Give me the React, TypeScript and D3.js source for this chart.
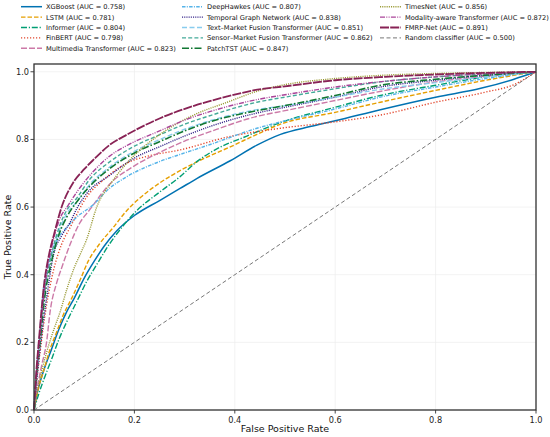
import * as d3 from "d3";

// ROC points: [FPR, TPR]
const xgboost: [number, number][] = [
  [0, 0], [0.008, 0.06], [0.02, 0.12], [0.035, 0.18], [0.05, 0.24], [0.065, 0.29], [0.08, 0.33],
  [0.1, 0.39], [0.12, 0.44], [0.14, 0.485], [0.165, 0.53], [0.2, 0.575], [0.251, 0.62], [0.291, 0.655],
  [0.325, 0.685], [0.391, 0.737], [0.444, 0.783], [0.491, 0.815], [0.55, 0.838], [0.6, 0.855],
  [0.69, 0.888], [0.8, 0.925], [0.89, 0.951], [0.956, 0.978], [1, 1],
];
const lstm: [number, number][] = [
  [0, 0], [0.008, 0.06], [0.02, 0.12], [0.032, 0.18], [0.045, 0.23], [0.058, 0.28], [0.075, 0.33],
  [0.092, 0.385], [0.108, 0.44], [0.13, 0.49], [0.158, 0.54], [0.185, 0.59], [0.212, 0.628], [0.251, 0.672],
  [0.3, 0.715], [0.351, 0.752], [0.391, 0.778], [0.444, 0.815], [0.491, 0.845], [0.6, 0.88], [0.69, 0.91],
  [0.8, 0.945], [0.9, 0.975], [1, 1],
];
const informer: [number, number][] = [
  [0, 0], [0.01, 0.05], [0.022, 0.1], [0.035, 0.15], [0.05, 0.21], [0.065, 0.26], [0.085, 0.32],
  [0.105, 0.38], [0.125, 0.43], [0.15, 0.49], [0.175, 0.54], [0.205, 0.59], [0.251, 0.645], [0.291, 0.69],
  [0.325, 0.735], [0.358, 0.767], [0.424, 0.81], [0.491, 0.85], [0.6, 0.895], [0.69, 0.93],
  [0.8, 0.96], [0.9, 0.985], [1, 1],
];
const finbert: [number, number][] = [
  [0, 0], [0.005, 0.08], [0.012, 0.17], [0.025, 0.31], [0.04, 0.42], [0.055, 0.49], [0.072, 0.54],
  [0.105, 0.63], [0.138, 0.68], [0.192, 0.735], [0.225, 0.75], [0.291, 0.769], [0.391, 0.809],
  [0.491, 0.833], [0.6, 0.852], [0.69, 0.872], [0.8, 0.91], [0.9, 0.94], [0.956, 0.962], [1, 1],
];
const multimedia: [number, number][] = [
  [0, 0], [0.006, 0.06], [0.015, 0.13], [0.025, 0.2], [0.032, 0.29], [0.045, 0.375], [0.055, 0.42],
  [0.072, 0.49], [0.09, 0.55], [0.11, 0.59], [0.152, 0.67], [0.2, 0.722], [0.251, 0.762], [0.3, 0.795],
  [0.351, 0.823], [0.444, 0.868], [0.5, 0.885], [0.6, 0.915], [0.7, 0.945], [0.8, 0.97], [0.9, 0.987], [1, 1],
];
const deepHawkes: [number, number][] = [
  [0, 0], [0.005, 0.12], [0.012, 0.24], [0.019, 0.36], [0.03, 0.44], [0.045, 0.5], [0.065, 0.54],
  [0.085, 0.57], [0.118, 0.607], [0.15, 0.655], [0.185, 0.69], [0.251, 0.735], [0.3, 0.76], [0.351, 0.785],
  [0.444, 0.833], [0.5, 0.855], [0.6, 0.89], [0.69, 0.925], [0.8, 0.955], [0.9, 0.98], [1, 1],
];
const temporalGraph: [number, number][] = [
  [0, 0], [0.005, 0.08], [0.012, 0.18], [0.025, 0.33], [0.039, 0.46], [0.055, 0.515], [0.072, 0.555],
  [0.085, 0.595], [0.105, 0.64], [0.152, 0.695], [0.2, 0.745], [0.251, 0.779], [0.3, 0.81], [0.35, 0.838],
  [0.444, 0.878], [0.5, 0.895], [0.6, 0.925], [0.69, 0.955], [0.8, 0.975], [0.9, 0.99], [1, 1],
];
const textMarket: [number, number][] = [
  [0, 0], [0.005, 0.1], [0.012, 0.22], [0.022, 0.36], [0.035, 0.46], [0.05, 0.53], [0.065, 0.58],
  [0.085, 0.615], [0.11, 0.665], [0.152, 0.72], [0.2, 0.765], [0.251, 0.8], [0.3, 0.83], [0.35, 0.855],
  [0.444, 0.888], [0.5, 0.9], [0.6, 0.925], [0.69, 0.948], [0.8, 0.968], [0.9, 0.985], [1, 1],
];
const sensorMarket: [number, number][] = [
  [0, 0], [0.005, 0.1], [0.012, 0.22], [0.022, 0.36], [0.035, 0.46], [0.05, 0.54], [0.065, 0.59],
  [0.085, 0.626], [0.11, 0.68], [0.152, 0.735], [0.2, 0.78], [0.251, 0.814], [0.3, 0.845], [0.35, 0.87],
  [0.444, 0.91], [0.5, 0.925], [0.6, 0.95], [0.69, 0.97], [0.8, 0.985], [0.9, 0.994], [1, 1],
];
const patchTST: [number, number][] = [
  [0, 0], [0.005, 0.1], [0.012, 0.2], [0.022, 0.34], [0.035, 0.44], [0.05, 0.52], [0.065, 0.57],
  [0.085, 0.615], [0.11, 0.66], [0.152, 0.715], [0.2, 0.76], [0.251, 0.794], [0.3, 0.825], [0.35, 0.852],
  [0.444, 0.885], [0.5, 0.9], [0.6, 0.93], [0.69, 0.96], [0.8, 0.978], [0.9, 0.99], [1, 1],
];
const timesNet: [number, number][] = [
  [0, 0], [0.01, 0.08], [0.025, 0.17], [0.04, 0.24], [0.052, 0.29], [0.065, 0.355], [0.08, 0.42],
  [0.095, 0.47], [0.105, 0.505], [0.125, 0.6], [0.158, 0.68], [0.185, 0.73], [0.22, 0.78],
  [0.251, 0.815], [0.318, 0.872], [0.385, 0.91], [0.45, 0.945], [0.5, 0.962], [0.6, 0.98], [0.7, 0.99],
  [0.8, 0.995], [0.9, 0.998], [1, 1],
];
const modalityAware: [number, number][] = [
  [0, 0], [0.005, 0.1], [0.012, 0.22], [0.022, 0.37], [0.035, 0.48], [0.05, 0.56], [0.068, 0.605],
  [0.098, 0.67], [0.118, 0.705], [0.15, 0.75], [0.185, 0.782], [0.25, 0.825], [0.3, 0.857], [0.35, 0.882],
  [0.445, 0.918], [0.5, 0.932], [0.6, 0.955], [0.7, 0.972], [0.8, 0.985], [0.9, 0.994], [1, 1],
];
const fmrpNet: [number, number][] = [
  [0, 0], [0.004, 0.1], [0.01, 0.21], [0.02, 0.37], [0.03, 0.46], [0.04, 0.52], [0.055, 0.6],
  [0.078, 0.672], [0.1, 0.712], [0.12, 0.742], [0.15, 0.783], [0.185, 0.814], [0.25, 0.862], [0.32, 0.9],
  [0.385, 0.927], [0.445, 0.947], [0.5, 0.957], [0.6, 0.975], [0.7, 0.985], [0.8, 0.992], [0.9, 0.997], [1, 1],
];
const randomClassifier: [number, number][] = [[0, 0], [1, 1]];

const seriesNames = [
  "XGBoost (AUC = 0.758)",
  "LSTM (AUC = 0.781)",
  "Informer (AUC = 0.804)",
  "FinBERT (AUC = 0.798)",
  "Multimedia Transformer (AUC = 0.823)",
  "DeepHawkes (AUC = 0.807)",
  "Temporal Graph Network (AUC = 0.838)",
  "Text\u2013Market Fusion Transformer (AUC = 0.851)",
  "Sensor\u2013Market Fusion Transformer (AUC = 0.862)",
  "PatchTST (AUC = 0.847)",
  "TimesNet (AUC = 0.856)",
  "Modality-aware Transformer (AUC = 0.872)",
  "FMRP-Net (AUC = 0.891)",
  "Random classifier (AUC = 0.500)",
];
const seriesData = [
  xgboost, lstm, informer, finbert, multimedia, deepHawkes, temporalGraph,
  textMarket, sensorMarket, patchTST, timesNet, modalityAware, fmrpNet, randomClassifier,
];
const ticks = [0, 0.2, 0.4, 0.6, 0.8, 1.0];

const styles = [
  { color: "#0072B2", dash: "", width: 1.5 },
  { color: "#E69F00", dash: "4.5,2", width: 1.4 },
  { color: "#009E73", dash: "6,1.8,1.2,1.8", width: 1.4 },
  { color: "#E2452B", dash: "1.2,1.8", width: 1.4 },
  { color: "#CC79A7", dash: "6,2", width: 1.4 },
  { color: "#56B4E9", dash: "3.5,1.3,1,1.3", width: 1.4 },
  { color: "#332288", dash: "1.1,1.1", width: 1.4 },
  { color: "#88CCEE", dash: "5,2.5", width: 1.4 },
  { color: "#44AA99", dash: "4,2.2", width: 1.4 },
  { color: "#117733", dash: "7,2,1.5,2", width: 1.6 },
  { color: "#999933", dash: "1.1,1.1", width: 1.4 },
  { color: "#AA4499", dash: "5,1.3,1,1.3,1,1.3", width: 1.4 },
  { color: "#882255", dash: "9,1.2", width: 1.8 },
  { color: "#777777", dash: "4,2.5", width: 1 },
];

const W = 550;
const H = 437;
const margin = { left: 34, right: 14, top: 64, bottom: 27 };
const yMax = 1.023;

export default function App() {
  const x = d3.scaleLinear().domain([0, 1]).range([margin.left, W - margin.right]);
  const y = d3.scaleLinear().domain([0, yMax]).range([H - margin.bottom, margin.top]);
  const line = d3
    .line<[number, number]>()
    .x((d) => x(d[0]))
    .y((d) => y(d[1]))
    .curve(d3.curveMonotoneX);

  const font = "DejaVu Sans, sans-serif";
  const legendCols = [
    { lineX: 21, textX: 46 },
    { lineX: 182, textX: 207 },
    { lineX: 380, textX: 405 },
  ];

  return (
    <svg
      width={W}
      height={H}
      style={{ position: "absolute", left: 0, top: 0, background: "#fff" }}
      fontFamily={font}
    >
      {/* grid */}
      {ticks.map((t) => (
        <g key={"g" + t}>
          <line x1={x(t)} x2={x(t)} y1={y(0)} y2={y(yMax)} stroke="#ececec" strokeWidth={0.7} />
          <line x1={x(0)} x2={x(1)} y1={y(t)} y2={y(t)} stroke="#ececec" strokeWidth={0.7} />
        </g>
      ))}

      {/* curves */}
      {seriesData.map((d, i) => (
        <path
          key={seriesNames[i]}
          d={line(d) ?? ""}
          fill="none"
          stroke={styles[i].color}
          strokeWidth={styles[i].width}
          strokeDasharray={styles[i].dash || undefined}
          strokeLinejoin="round"
        />
      ))}

      {/* frame */}
      <rect
        x={x(0)}
        y={y(yMax)}
        width={x(1) - x(0)}
        height={y(0) - y(yMax)}
        fill="none"
        stroke="#333"
        strokeWidth={1.3}
      />

      {/* ticks */}
      {ticks.map((t) => (
        <g key={"t" + t} fontSize={8.2} fill="#222">
          <line x1={x(t)} x2={x(t)} y1={y(0)} y2={y(0) + 3.5} stroke="#333" strokeWidth={0.9} />
          <text x={x(t)} y={y(0) + 13} textAnchor="middle">
            {t.toFixed(1)}
          </text>
          <line x1={x(0) - 3.5} x2={x(0)} y1={y(t)} y2={y(t)} stroke="#333" strokeWidth={0.9} />
          <text x={x(0) - 5} y={y(t) + 3} textAnchor="end">
            {t.toFixed(1)}
          </text>
        </g>
      ))}

      {/* axis labels */}
      <text x={(x(0) + x(1)) / 2} y={432} textAnchor="middle" fontSize={9.5} fill="#111">
        False Positive Rate
      </text>
      <text
        transform={`translate(11,${(y(0) + y(yMax)) / 2}) rotate(-90)`}
        textAnchor="middle"
        fontSize={9.5}
        fill="#111"
      >
        True Positive Rate
      </text>

      {/* legend */}
      {seriesNames.map((name, i) => {
        const col = i < 5 ? 0 : i < 10 ? 1 : 2;
        const row = i < 5 ? i : i < 10 ? i - 5 : i - 10;
        const cy = 6.7 + row * 10.4;
        const c = legendCols[col];
        return (
          <g key={"l" + name}>
            <line
              x1={c.lineX}
              x2={c.lineX + 21}
              y1={cy}
              y2={cy}
              stroke={styles[i].color}
              strokeWidth={styles[i].width}
              strokeDasharray={styles[i].dash || undefined}
            />
            <text x={c.textX} y={cy + 2.4} fontSize={6.7} fill="#111">
              {name}
            </text>
          </g>
        );
      })}
    </svg>
  );
}
